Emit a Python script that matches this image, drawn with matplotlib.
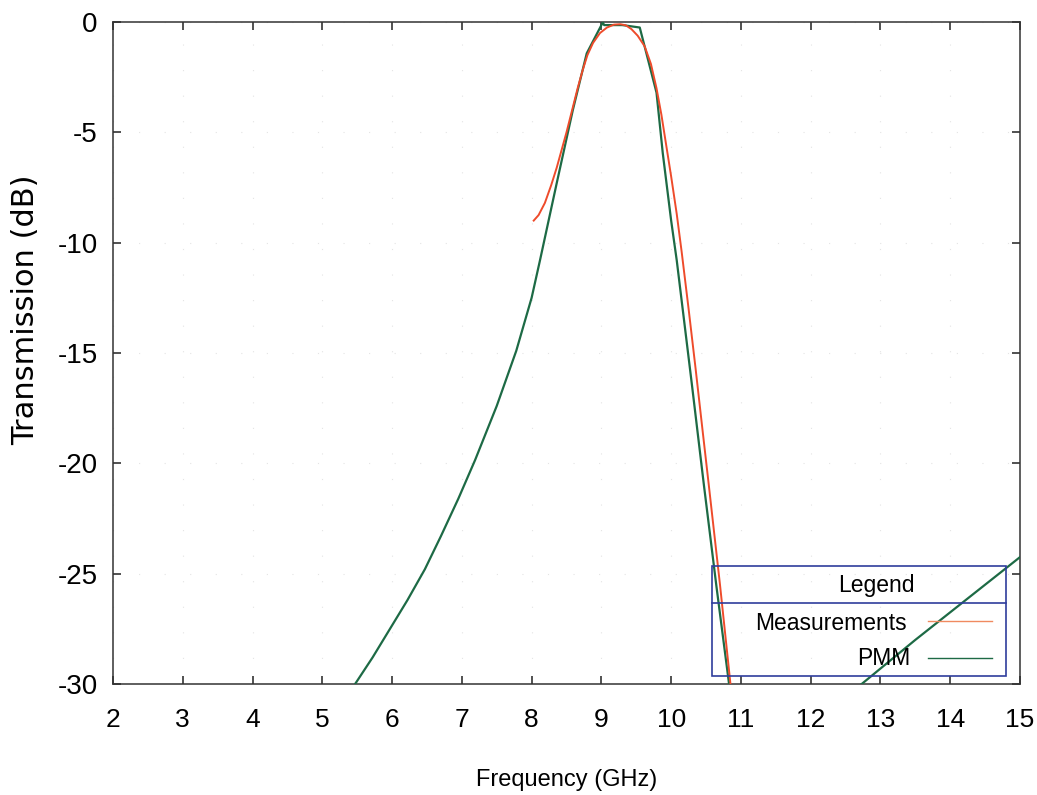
import matplotlib
matplotlib.use("Agg")
import matplotlib.pyplot as plt
from matplotlib.patches import Rectangle
from matplotlib.lines import Line2D

# ---- data ----
meas_freq = [8.03, 8.10, 8.19, 8.28, 8.36, 8.43, 8.50, 8.58, 8.66, 8.73, 8.80,
             8.88, 8.98, 9.08, 9.18, 9.27, 9.35, 9.43, 9.52, 9.62, 9.71, 9.79,
             9.86, 9.93, 10.00, 10.08, 10.15, 10.25, 10.35, 10.45, 10.54, 10.70,
             10.85]
meas_db = [-9.0, -8.75, -8.2, -7.4, -6.6, -5.8, -5.0, -4.0, -3.0, -2.2, -1.5,
           -0.95, -0.5, -0.25, -0.12, -0.1, -0.15, -0.32, -0.62, -1.1, -1.9, -3.0,
           -4.2, -5.6, -7.0, -8.7, -10.4, -13.0, -15.7, -18.5, -21.0, -25.5,
           -30.0]

pmm_freq = [5.47, 5.72, 5.97, 6.22, 6.47, 6.70, 6.95, 7.19, 7.50, 7.78, 8.00,
            8.12, 8.36, 8.59, 8.79, 9.02, 9.04, 9.30, 9.55, 9.79, 9.88, 10.00,
            10.08, 10.30, 10.47, 10.65, 10.83, 11.50, 12.50, 13.50, 15.00]
pmm_db = [-30.0, -28.8, -27.5, -26.2, -24.8, -23.3, -21.6, -19.85, -17.4, -14.9,
          -12.5, -10.8, -7.3, -4.0, -1.42, -0.02, -0.14, -0.14, -0.25, -3.2, -5.95,
          -9.0, -10.8, -16.5, -21.0, -25.6, -30.0, -45.0, -30.6, -28.0, -24.25]

x_ticks = [2, 3, 4, 5, 6, 7, 8, 9, 10, 11, 12, 13, 14, 15]
y_ticks = [0, -5, -10, -15, -20, -25, -30]

series_labels = ["Measurements", "PMM"]
legend_title = "Legend"
x_label = "Frequency (GHz)"
y_label = "Transmission (dB)"

red = "#ee4b2b"
green = "#1d6a45"
blue = "#2f3d9c"
font = ["Liberation Sans", "DejaVu Sans"]

fig = plt.figure(figsize=(10.37, 7.95), dpi=100)
ax = fig.add_axes([113 / 1037, 1 - 684 / 795, 907 / 1037, 662 / 795])

ax.plot(pmm_freq, pmm_db, color=green, lw=1.6, zorder=3, clip_on=True)
ax.plot(meas_freq, meas_db, color=red, lw=1.4, zorder=4, clip_on=True)

ax.set_xlim(2, 15)
ax.set_ylim(-30, 0)
ax.set_xticks(x_ticks)
ax.set_yticks(y_ticks)
ax.set_xticklabels([str(t) for t in x_ticks], family=font, fontsize=19)
ax.set_yticklabels([str(t) for t in y_ticks], family=font, fontsize=20)
ax.tick_params(axis="both", direction="in", length=6, width=1.2, color="#333333",
               top=True, right=True)
ax.tick_params(axis="x", pad=17)
ax.tick_params(axis="y", pad=11)
for s in ax.spines.values():
    s.set_color("#333333")
    s.set_linewidth(1.1)

ax.grid(True, color="#e4e4e4", linestyle=(0, (1, 22)), linewidth=0.8)
ax.set_axisbelow(True)

ax.set_xlabel(x_label, family=font, fontsize=17, va="center")
ax.xaxis.set_label_coords(0.5, -0.145)
ax.set_ylabel(y_label, family=["DejaVu Sans"], fontsize=22, va="center")
ax.yaxis.set_label_coords(-0.096, 0.565)

# ---- custom legend box (transparent) ----
x0, x1 = 0.660, 0.9846
y0, y1, ydiv = 0.0121, 0.1782, 0.1224
ax.add_patch(Rectangle((x0, y0), x1 - x0, y1 - y0, transform=ax.transAxes,
                       fill=False, edgecolor=blue, lw=1.2, zorder=5, clip_on=False))
ax.add_line(Line2D([x0, x1], [ydiv, ydiv], transform=ax.transAxes, color=blue,
                   lw=1.2, zorder=5))
ax.text(0.842, 0.149, legend_title, transform=ax.transAxes, ha="center",
        va="center", family=font, fontsize=16.5, zorder=6)
ax.text(0.8754, 0.0921, series_labels[0], transform=ax.transAxes, ha="right",
        va="center", family=font, fontsize=16.5, zorder=6)
ax.text(0.8787, 0.0378, series_labels[1], transform=ax.transAxes, ha="right",
        va="center", family=font, fontsize=16.5, zorder=6)
ax.add_line(Line2D([0.8986, 0.969], [0.0952, 0.0952], transform=ax.transAxes,
                   color="#f08a60", lw=1.0, zorder=6))
ax.add_line(Line2D([0.8986, 0.969], [0.0393, 0.0393], transform=ax.transAxes,
                   color=green, lw=1.0, zorder=6))

fig.savefig("out.png", dpi=100)
